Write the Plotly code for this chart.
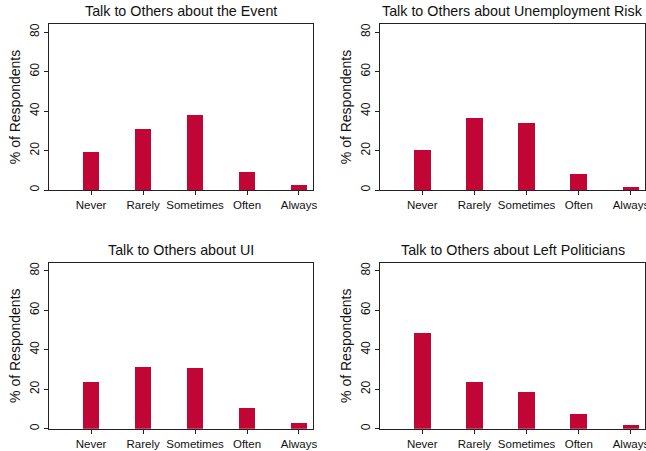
import plotly.graph_objects as go

categories = ["Never", "Rarely", "Sometimes", "Often", "Always"]
titles = [
    "Talk to Others about the Event",
    "Talk to Others about Unemployment Risk",
    "Talk to Others about UI",
    "Talk to Others about Left Politicians",
]
event_vals = [19.4, 30.9, 38.0, 9.1, 2.7]
unemp_vals = [20.3, 36.6, 33.9, 8.3, 1.5]
ui_vals = [24.0, 31.6, 31.1, 10.4, 2.9]
left_vals = [48.7, 24.0, 18.5, 7.4, 1.8]
y_ticks = [0, 20, 40, 60, 80]

series = [event_vals, unemp_vals, ui_vals, left_vals]
W, H = 646, 451
# panel boxes in pixels: (left, right, top, bottom)
boxes = [(49, 313, 24, 190), (380, 645, 24, 190), (49, 313, 262.7, 428.7), (380, 645, 262.7, 428.7)]
FONT = "Liberation Sans, Arial, Helvetica, sans-serif"
BAR = "#C10534"

fig = go.Figure()
positions = list(range(1, len(categories) + 1))
annotations = []
for i, (vals, box) in enumerate(zip(series, boxes)):
    n = "" if i == 0 else str(i + 1)
    fig.add_trace(go.Bar(x=positions, y=vals, width=0.32, marker=dict(color=BAR, line=dict(width=0)),
                         xaxis="x" + n, yaxis="y" + n, showlegend=False))
    l, r, t, b = box
    xd = [l / W, r / W]
    yd = [1 - b / H, 1 - t / H]
    fig.layout["xaxis" + n] = dict(
        domain=xd, range=[0.19, 5.27], tickvals=positions, ticktext=categories,
        ticks="outside", ticklen=4, tickcolor="#222", showline=True, linecolor="#222",
        linewidth=1, mirror=True, showgrid=False, zeroline=False, anchor="y" + n,
        tickfont=dict(family=FONT, size=11.5, color="#111"), fixedrange=True,
        automargin=False, ticklabeloverflow="allow",
    )
    fig.layout["yaxis" + n] = dict(
        domain=yd, range=[0, 84.05], tickvals=y_ticks, ticks="outside", ticklen=4,
        tickcolor="#222", showline=True, linecolor="#222", linewidth=1, mirror=True,
        showgrid=False, zeroline=False, anchor="x" + n, tickangle=-90,
        tickfont=dict(family=FONT, size=12, color="#111"), automargin=False,
        title=dict(text="% of Respondents", font=dict(family=FONT, size=14, color="#111"), standoff=4),
    )
    annotations.append(dict(text=titles[i], x=(xd[0] + xd[1]) / 2, y=yd[1], xref="paper", yref="paper",
                            xanchor="center", yanchor="bottom", yshift=3, showarrow=False,
                            font=dict(family=FONT, size=14.3, color="#111")))

fig.update_layout(width=W, height=H, margin=dict(l=0, r=0, t=0, b=0, autoexpand=False),
                  paper_bgcolor="white", plot_bgcolor="white", annotations=annotations,
                  bargap=0)
fig.write_html("out.html", config={"displayModeBar": False},
               post_script="document.body.style.margin='0';document.body.style.padding='0';")
